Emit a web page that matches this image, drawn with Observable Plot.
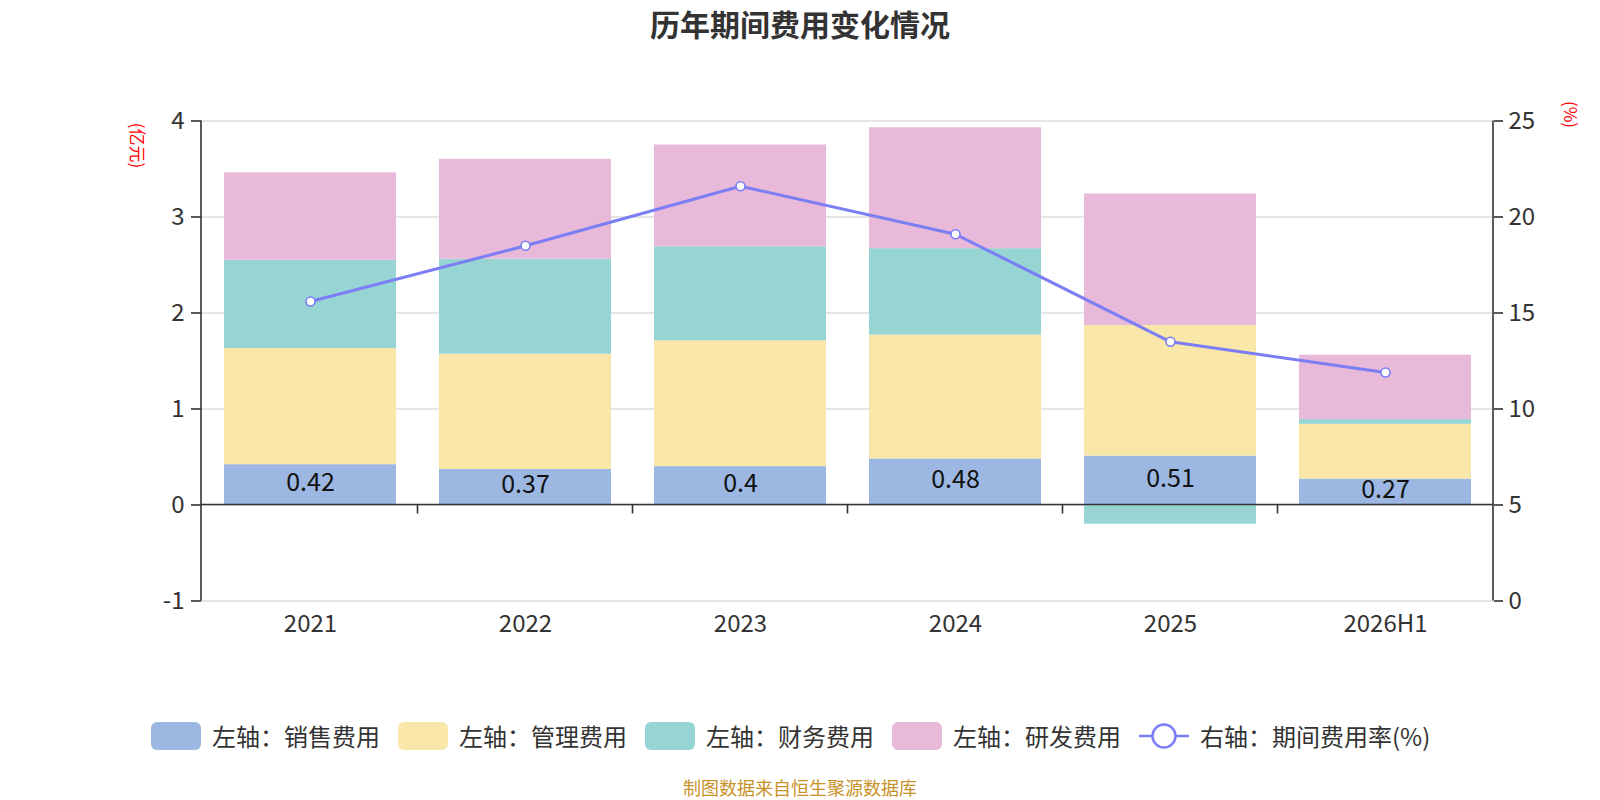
<!DOCTYPE html>
<html>
<head>
<meta charset="utf-8">
<script src="https://cdn.jsdelivr.net/npm/d3@7"></script>
<script src="https://cdn.jsdelivr.net/npm/@observablehq/plot@0.6"></script>
<style>
  html, body { margin: 0; padding: 0; background: #fff; }
  body { font-family: "Noto Sans CJK SC", "Noto Sans", sans-serif; }
  #wrap { position: relative; width: 1600px; height: 800px; overflow: hidden; }
  #title { position: absolute; left: 0; top: 0; width: 1600px; text-align: center; font-size: 30px; font-weight: bold; line-height: 46px; color: #333; }
  #chart { position: absolute; left: 0; top: 60px; }
  .ylab { position: absolute; color: #ff0000; font-size: 17px; line-height: 17px; white-space: nowrap; transform-origin: center center; }
  #legend { position: absolute; left: 151px; top: 722px; height: 28px; display: flex; align-items: center; gap: 18px; }
  .item { display: flex; align-items: center; height: 28px; }
  .sw { width: 50px; height: 28px; border-radius: 6px; }
  .lt { margin-left: 11px; font-size: 24px; line-height: 28px; color: #333; white-space: nowrap; }
  #footer { position: absolute; left: 0; top: 777px; width: 1600px; text-align: center; font-size: 18px; line-height: 20px; color: #c8922a; }
</style>
</head>
<body>
<div id="wrap">
  <div id="title">历年期间费用变化情况</div>
  <div id="chart"></div>
  <div class="ylab" id="ylabL">(亿元)</div>
  <div class="ylab" id="ylabR">(%)</div>
  <div id="legend"></div>
  <div id="footer">制图数据来自恒生聚源数据库</div>
</div>
<script>
// ---- data ----
const years = ["2021", "2022", "2023", "2024", "2025", "2026H1"];
const sales = [0.42, 0.37, 0.40, 0.48, 0.51, 0.27];      // 销售费用 (亿元)
const admin = [1.21, 1.20, 1.31, 1.29, 1.36, 0.57];      // 管理费用 (亿元)
const finance = [0.92, 0.99, 0.98, 0.90, -0.20, 0.05];   // 财务费用 (亿元)
const rnd = [0.91, 1.04, 1.06, 1.26, 1.37, 0.67];        // 研发费用 (亿元)
const rate = [15.6, 18.5, 21.6, 19.1, 13.5, 11.9];       // 期间费用率 (%)
const seriesNames = ["左轴：销售费用", "左轴：管理费用", "左轴：财务费用", "左轴：研发费用"];
const lineName = "右轴：期间费用率(%)";
const seriesColors = ["#9cb8e2", "#f8e7a9", "#97d4d4", "#e8b9d8"];
const lineColor = "#7b7ef4";
const leftTicks = [-1, 0, 1, 2, 3, 4];
const rightTicks = [0, 5, 10, 15, 20, 25];

// tidy table
const seriesValues = [sales, admin, finance, rnd];
const bars = [];
seriesNames.forEach((s, i) => years.forEach((y, j) => bars.push({year: y, series: s, value: seriesValues[i][j]})));
const salesRows = years.map((y, j) => ({year: y, value: sales[j]}));
// right axis (0..25) mapped onto left axis (-1..4)
const toLeft = r => r / 5 - 1;
const toRight = v => (v + 1) * 5;
const rateRows = years.map((y, j) => ({year: y, rate: rate[j]}));

// axis lines + category boundary ticks
function axisFrame(index, scales, values, dims) {
  const {marginLeft, marginRight, marginTop, marginBottom, width, height} = dims;
  const x0 = marginLeft, x1 = width - marginRight, yT = marginTop, yB = height - marginBottom;
  const g = d3.create("svg:g").attr("stroke", "#333").attr("stroke-width", 1.6).attr("fill", "none");
  const y0 = scales.y(0);
  g.append("line").attr("x1", x0).attr("x2", x0).attr("y1", yT).attr("y2", yB);
  g.append("line").attr("x1", x1).attr("x2", x1).attr("y1", yT).attr("y2", yB);
  g.append("line").attr("x1", x0).attr("x2", x1).attr("y1", y0).attr("y2", y0);
  const bw = scales.x.bandwidth(), step = scales.x.step();
  years.slice(1).forEach(c => {
    const bx = scales.x(c) - (step - bw) / 2;
    g.append("line").attr("x1", bx).attr("x2", bx).attr("y1", y0).attr("y2", y0 + 9);
  });
  return g.node();
}

const chart = Plot.plot({
  width: 1600,
  height: 640,
  marginLeft: 201,
  marginRight: 107,
  marginTop: 60.5,
  marginBottom: 99.5,
  style: {fontFamily: '"Noto Sans CJK SC", "Noto Sans", sans-serif', color: "#333", background: "transparent", overflow: "visible"},
  x: {domain: years, paddingInner: 0.2, paddingOuter: 0.1},
  y: {domain: [-1, 4]},
  color: {domain: seriesNames, range: seriesColors},
  marks: [
    Plot.ruleY(leftTicks, {stroke: "#cccccc", strokeWidth: 1.2}),
    Plot.barY(bars, Plot.stackY({x: "year", y: "value", z: "series", fill: "series", order: seriesNames})),
    Plot.text(salesRows, {x: "year", y: d => d.value / 2, text: d => String(d.value), fill: "#111", fontSize: 25, dy: -2}),
    axisFrame,
    Plot.axisY({anchor: "left", ticks: leftTicks, tickFormat: v => String(v), tickSize: 10, tickPadding: 7, fontSize: 24, label: null, stroke: "#333", strokeWidth: 1.6}),
    Plot.axisY({anchor: "right", ticks: leftTicks, tickFormat: v => String(toRight(v)), tickSize: 9, tickPadding: 6, fontSize: 24, label: null, stroke: "#333", strokeWidth: 1.6}),
    Plot.axisX({anchor: "bottom", tickSize: 0, tickPadding: 14, fontSize: 24, label: null}),
    Plot.line(rateRows, {x: "year", y: d => toLeft(d.rate), stroke: lineColor, strokeWidth: 3}),
    Plot.dot(rateRows, {x: "year", y: d => toLeft(d.rate), r: 4.5, fill: "#fff", stroke: lineColor, strokeWidth: 1.6})
  ]
});
document.getElementById("chart").appendChild(chart);

// rotated axis titles
function placeLabel(id, cx, cy) {
  const el = document.getElementById(id);
  const w = el.offsetWidth, h = el.offsetHeight;
  el.style.left = (cx - w / 2) + "px";
  el.style.top = (cy - h / 2) + "px";
  el.style.transform = "rotate(90deg)";
}
placeLabel("ylabL", 139, 145);
placeLabel("ylabR", 1571, 114);

// legend
const legend = document.getElementById("legend");
seriesNames.forEach((s, i) => {
  const it = document.createElement("div");
  it.className = "item";
  it.innerHTML = `<div class="sw" style="background:${seriesColors[i]}"></div><span class="lt">${s}</span>`;
  legend.appendChild(it);
});
const li = document.createElement("div");
li.className = "item";
li.innerHTML = `<svg width="50" height="28"><line x1="0" x2="50" y1="14" y2="14" stroke="${lineColor}" stroke-width="2.5"/><circle cx="25" cy="14" r="11.5" fill="#fff" stroke="${lineColor}" stroke-width="2.5"/></svg><span class="lt">${lineName}</span>`;
legend.appendChild(li);
</script>
</body>
</html>
